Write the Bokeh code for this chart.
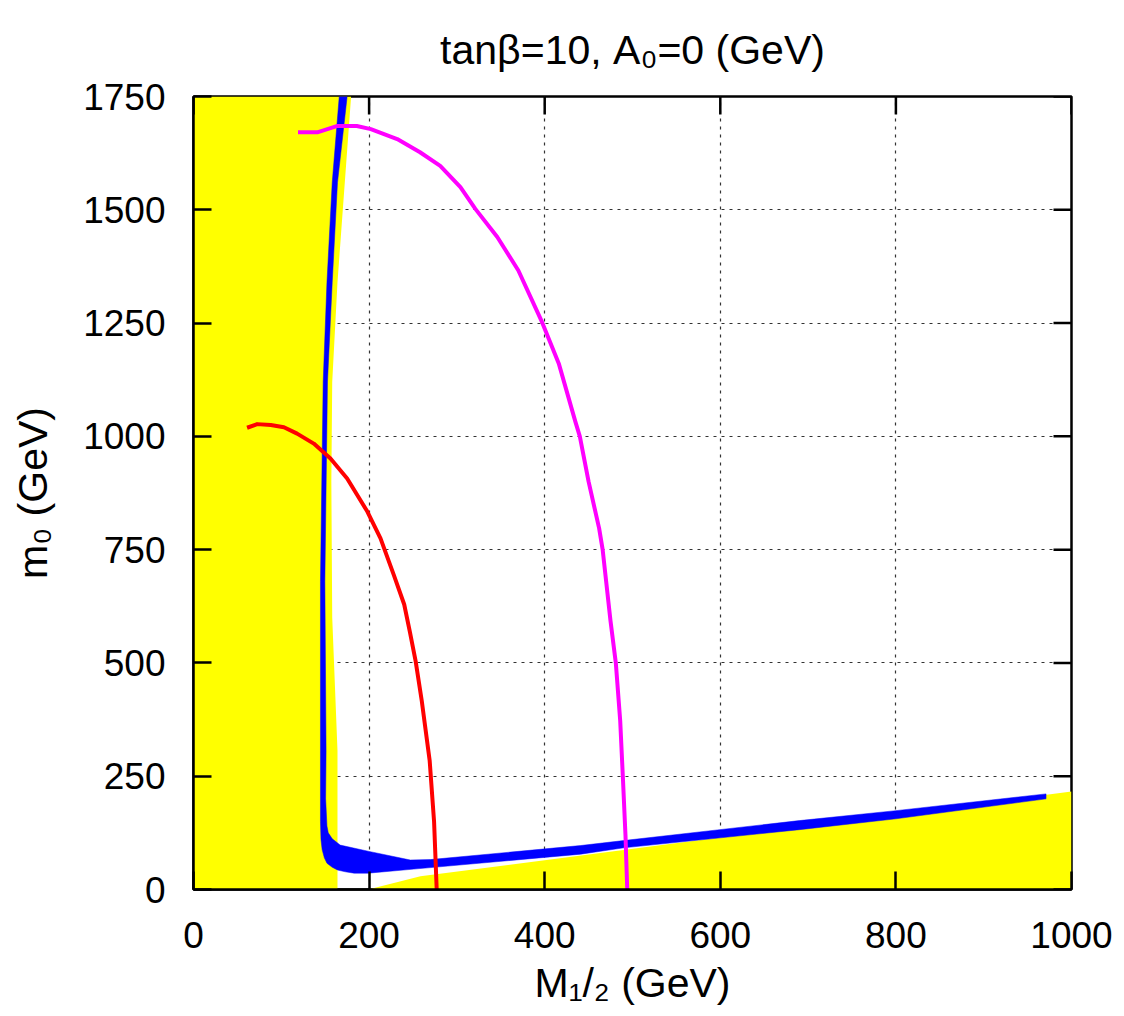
from bokeh.plotting import figure
from bokeh.models import Range1d, FixedTicker
from bokeh.embed import file_html
from bokeh.resources import INLINE

# ---------------- data (GeV) ----------------
x_ticks = [0, 200, 400, 600, 800, 1000]
y_ticks = [0, 250, 500, 750, 1000, 1250, 1500, 1750]

# excluded region on the left (yellow)
yl_m12 = [0, 164, 164, 158, 157, 158, 164, 179.5, 0]
yl_m0 = [0, 0, 306, 600, 900, 1120, 1340, 1750, 1750]
# excluded region at the bottom (yellow)
yb_m12 = [199, 258.5, 1000, 1000]
yb_m0 = [0, 29, 216, 0]

# relic-density band (blue): outer edge then inner edge
blue_out_m12 = [166, 158, 152, 147.7, 144.6, 144.6, 144.6, 145.2, 146.5, 149, 152, 158, 164, 173, 183, 199, 251, 441, 490, 690, 800, 971]
blue_out_m0 = [1750, 1560, 1340, 1120, 680, 306, 150, 110, 88, 70, 58, 49, 43, 39, 36, 36, 45, 78, 92, 132, 156, 200]
blue_in_m12 = [971, 800, 690, 490, 441, 270, 247, 200, 167, 158, 153.5, 152, 150.5, 151, 149.6, 152.6, 158, 164, 175]
blue_in_m0 = [211, 174, 152, 108, 97, 66, 65, 84, 98, 112, 125, 140, 200, 306, 680, 1120, 1340, 1560, 1750]

# red contour
red_m12 = [61, 72.5, 88, 103, 118, 137, 156, 175, 198, 213, 222.5, 228, 240, 246.5, 253, 260, 269, 274, 277]
red_m0 = [1019, 1027, 1025, 1020, 1006, 984, 951, 907, 834, 775, 724, 695, 629, 568, 504, 416, 284, 150, 0]

# magenta contour
mag_m12 = [119, 141, 164, 186, 202, 232, 258, 281, 304, 321, 346, 370, 397, 416, 435, 440, 450, 462, 466, 475, 481, 486, 489, 492, 494]
mag_m0 = [1671, 1671, 1685, 1685, 1678, 1656, 1627, 1597, 1550, 1502, 1440, 1366, 1252, 1161, 1032, 1000, 900, 797, 750, 592, 500, 372, 249, 120, 0]

title_text = "tanβ=10, A\u2080=0 (GeV)"
xlabel_text = "M\u2081/\u2082 (GeV)"
ylabel_text = "m\u2080 (GeV)"

FONT = "Liberation Sans"
TFS = 37      # tick labels
LFS = 41      # title / axis labels

# ---------------- geometry (canvas pixels) ----------------
W, H = 1116, 1010
ML, MT = 193, 94
FW, FH = 878, 795
MR = W - ML - FW
MB = H - MT - FH
TICK = 18

p = figure(width=W, height=H, x_range=Range1d(0, 1000), y_range=Range1d(0, 1750),
           output_backend="svg", toolbar_location=None,
           min_border_left=ML, min_border_right=MR, min_border_top=MT, min_border_bottom=MB)
p.background_fill_color = "white"
p.border_fill_color = "white"
p.outline_line_color = "black"
p.outline_line_width = 2.5

p.title.text = title_text
p.title.align = "center"
p.title.vertical_align = "bottom"
p.title.text_font = FONT
p.title.text_font_size = f"{LFS}px"
p.title.text_font_style = "normal"
p.title.text_color = "black"
p.title.standoff = 48

for g in (p.xgrid[0], p.ygrid[0]):
    g.grid_line_color = "#333333"
    g.grid_line_dash = "3 5"
    g.grid_line_width = 1.2
p.xgrid[0].ticker = FixedTicker(ticks=x_ticks)
p.ygrid[0].ticker = FixedTicker(ticks=y_ticks)

p.patch(yl_m12, yl_m0, fill_color="#FFFF00", line_color=None)
p.patch(yb_m12, yb_m0, fill_color="#FFFF00", line_color=None)
p.patch(blue_out_m12 + blue_in_m12, blue_out_m0 + blue_in_m0, fill_color="#0000FF",
        line_color="#0000FF", line_width=0.5)
p.line(red_m12, red_m0, line_color="#FF0000", line_width=4, line_join="round")
p.line(mag_m12, mag_m0, line_color="#FF00FF", line_width=4, line_join="round")

# mirrored inward ticks on the top and right borders (gnuplot style)
ty = TICK * 1750 / FH
tx = TICK * 1000 / FW
p.segment(x0=x_ticks, y0=[1750] * len(x_ticks), x1=x_ticks, y1=[1750 - ty] * len(x_ticks),
          line_color="black", line_width=2.5)
p.segment(x0=[1000] * len(y_ticks), y0=y_ticks, x1=[1000 - tx] * len(y_ticks), y1=y_ticks,
          line_color="black", line_width=2.5)

for ax, ticks in ((p.xaxis[0], x_ticks), (p.yaxis[0], y_ticks)):
    ax.ticker = FixedTicker(ticks=ticks)
    ax.major_tick_in = TICK
    ax.major_tick_out = 0
    ax.minor_tick_in = 0
    ax.minor_tick_out = 0
    ax.major_tick_line_width = 2.5
    ax.major_tick_line_color = "black"
    ax.axis_line_color = "black"
    ax.axis_line_width = 2.5
    ax.major_label_text_font = FONT
    ax.major_label_text_color = "black"
    ax.major_label_text_font_size = f"{TFS}px"
    ax.axis_label_text_font = FONT
    ax.axis_label_text_font_size = f"{LFS}px"
    ax.axis_label_text_font_style = "normal"
    ax.axis_label_text_color = "black"

p.xaxis[0].axis_label = xlabel_text
p.yaxis[0].axis_label = ylabel_text
p.xaxis[0].major_label_standoff = 32
p.xaxis[0].axis_label_standoff = 9
p.yaxis[0].major_label_standoff = 28
p.yaxis[0].axis_label_standoff = 24

open("out.html", "w").write(file_html(p, INLINE))
